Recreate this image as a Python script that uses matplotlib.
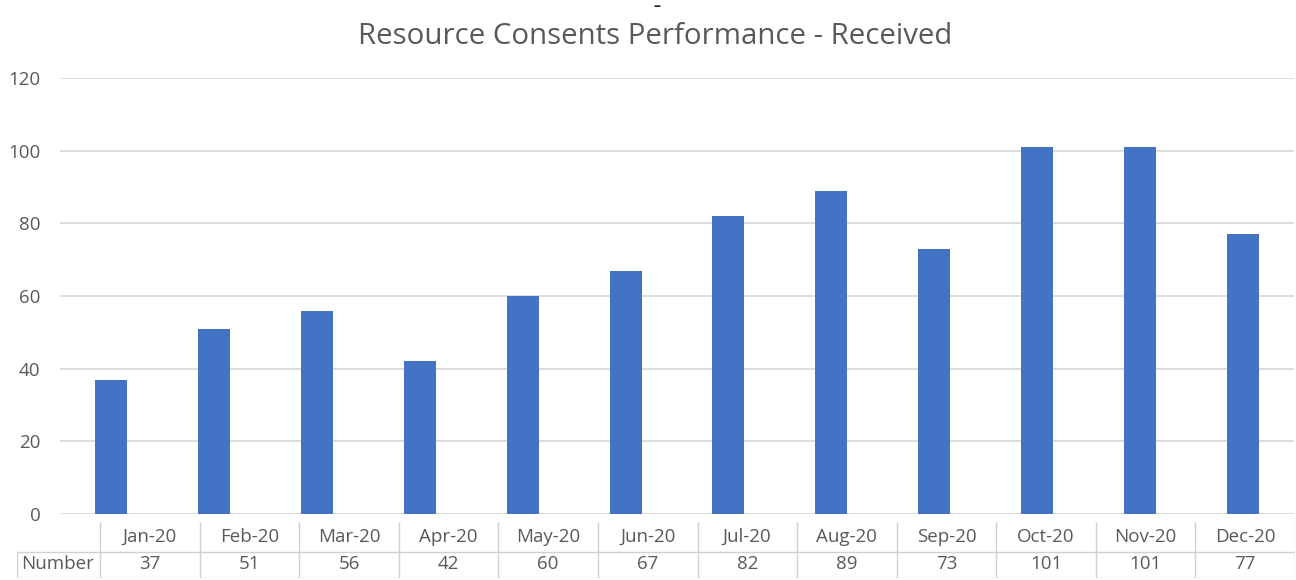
import matplotlib.pyplot as plt
import numpy as np

# Monthly resource consents received, 2020
months = ['Jan-20', 'Feb-20', 'Mar-20', 'Apr-20', 'May-20', 'Jun-20',
          'Jul-20', 'Aug-20', 'Sep-20', 'Oct-20', 'Nov-20', 'Dec-20']
received = [37, 51, 56, 42, 60, 67, 82, 89, 73, 101, 101, 77]
row_label = 'Number'

BLUE = '#4472C4'
TEXT = '#595959'
GRID = '#dedede'
BORDER = '#d0d0d0'

plt.rcParams['font.family'] = ['Open Sans', 'DejaVu Sans']

W, H = 1296, 580
fig = plt.figure(figsize=(W / 100, H / 100), dpi=100)


def px_box(x0, y0, x1, y1):
    # pixel box (top-left origin) -> figure fraction rect
    return [x0 / W, 1 - y1 / H, (x1 - x0) / W, (y1 - y0) / H]


# bar chart
ax = fig.add_axes(px_box(60, 78, 1294, 514))
x = np.arange(len(months))
ax.bar(x, received, width=0.31, color=BLUE, zorder=3)
ax.set_xlim(-0.5, len(months) - 0.5)
ax.set_ylim(0, 120)
ax.set_yticks(range(0, 121, 20))
ax.yaxis.grid(True, color=GRID, linewidth=1.4, zorder=0)
ax.set_xticks([])
ax.tick_params(axis='y', length=0, pad=14, labelsize=13.5, labelcolor=TEXT)
for s in ax.spines.values():
    s.set_visible(False)

fig.text(655 / W, 1 - 37 / H, 'Resource Consents Performance - Received',
         ha='center', va='center', fontsize=21.2, color=TEXT)
fig.text(657 / W, 1 - 6 / H, '\u2013', ha='center', va='center',
         fontsize=10, color='#222222', fontweight='bold')

# data table under the chart
tx = fig.add_axes(px_box(17, 522, 1295, 578))
tx.set_xlim(17, 1295)
tx.set_ylim(578, 522)
tx.axis('off')
col0 = 100
cw = (1295 - col0) / len(months)
edges = [col0 + cw * i for i in range(len(months) + 1)]
row_mid = 552
lw = 1.0
for e in edges:
    tx.plot([e, e], [522, 578], color=BORDER, lw=lw, solid_capstyle='butt')
tx.plot([17, 17], [row_mid, 578], color=BORDER, lw=lw)
tx.plot([17, 1295], [row_mid, row_mid], color=BORDER, lw=lw)
tx.plot([17, 1295], [578, 578], color=BORDER, lw=lw)
for i, (m, v) in enumerate(zip(months, received)):
    cx = (edges[i] + edges[i + 1]) / 2
    tx.text(cx, 537, m, ha='center', va='center', fontsize=13.5, color=TEXT)
    tx.text(cx, 564, str(v), ha='center', va='center', fontsize=13.5, color=TEXT)
tx.text(58, 564, row_label, ha='center', va='center', fontsize=13.5, color=TEXT)

fig.savefig('out.png', dpi=100)
